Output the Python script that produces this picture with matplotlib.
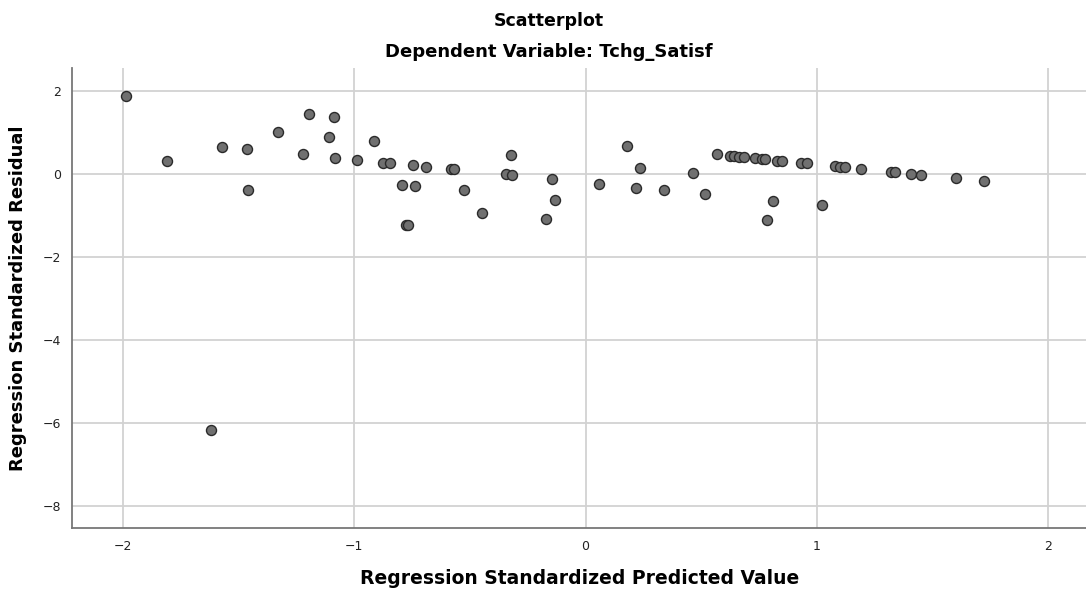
import matplotlib
matplotlib.use("Agg")
import matplotlib.pyplot as plt

# standardized predicted value / standardized residual
pred = [-1.987, -1.809, -1.620, -1.573, -1.465, -1.459, -1.332, -1.222, -1.196,
        -1.110, -1.087, -1.084, -0.990, -0.916, -0.874, -0.845, -0.794, -0.776,
        -0.766, -0.747, -0.736, -0.690, -0.583, -0.571, -0.524, -0.447, -0.346,
        -0.323, -0.319, -0.170, -0.145, -0.132, 0.059, 0.180, 0.219, 0.235,
        0.338, 0.466, 0.517, 0.569, 0.625, 0.641, 0.665, 0.687, 0.732, 0.765,
        0.778, 0.787, 0.813, 0.827, 0.850, 0.932, 0.958, 1.025, 1.080, 1.102,
        1.123, 1.193, 1.320, 1.338, 1.406, 1.450, 1.602, 1.722]
resid = [1.865, 0.30, -6.18, 0.65, 0.60, -0.39, 1.01, 0.47, 1.43,
         0.89, 1.37, 0.39, 0.34, 0.79, 0.27, 0.27, -0.27, -1.24,
         -1.24, 0.20, -0.29, 0.17, 0.11, 0.11, -0.40, -0.94, -0.015,
         0.46, -0.02, -1.09, -0.13, -0.63, -0.24, 0.67, -0.33, 0.15,
         -0.39, 0.02, -0.49, 0.47, 0.43, 0.43, 0.40, 0.40, 0.37, 0.35,
         0.35, -1.12, -0.65, 0.31, 0.31, 0.26, 0.26, -0.76, 0.18, 0.17,
         0.16, 0.12, 0.05, 0.04, 0.00, -0.02, -0.10, -0.17]

x_ticks = [-2, -1, 0, 1, 2]
y_ticks = [2, 0, -2, -4, -6, -8]

fig = plt.figure(figsize=(10.86, 5.92), dpi=100)
ax = fig.add_axes([0.0666, 0.1073, 0.9334, 0.778])

ax.scatter(pred, resid, s=52, facecolor='#707070', edgecolor='#2a2a2a',
           linewidth=1.0, zorder=3)

ax.set_xlim(-2.22, 2.165)
ax.set_ylim(-8.54, 2.55)
ax.set_xticks(x_ticks)
ax.set_yticks(y_ticks)
ax.grid(True, color='#d2d2d2', linewidth=1.3, zorder=0)
ax.set_axisbelow(True)
ax.tick_params(length=0, labelsize=9, colors='#222222', pad=8)

for side in ['top', 'right']:
    ax.spines[side].set_visible(False)
for side in ['left', 'bottom']:
    ax.spines[side].set_color('#777777')
    ax.spines[side].set_linewidth(1.3)

ax.set_xlabel('Regression Standardized Predicted Value', fontsize=13.5,
              fontweight='bold', labelpad=12)
ax.set_ylabel('Regression Standardized Residual', fontsize=13,
              fontweight='bold', labelpad=11)

fig.text(0.505, 0.965, 'Scatterplot', ha='center', va='center',
         fontsize=12.5, fontweight='bold')
fig.text(0.505, 0.912, 'Dependent Variable: Tchg_Satisf', ha='center',
         va='center', fontsize=13, fontweight='bold')

fig.savefig('out.png', dpi=100)
